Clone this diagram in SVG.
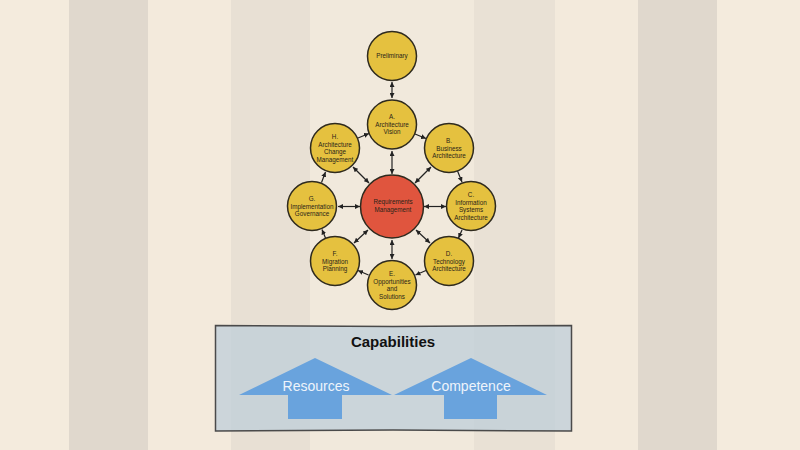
<svg xmlns="http://www.w3.org/2000/svg" width="800" height="450" viewBox="0 0 800 450">
<defs>
<style>
.node{fill:#e5c13f;stroke:#2e2a1e;stroke-width:1.5}
.core{fill:#e0553e;stroke:#2e2a1e;stroke-width:1.5}
.lbl{font-family:"Liberation Sans",Arial,sans-serif;font-size:6.3px;fill:#2a2418;text-anchor:middle}
.con{stroke:#222;stroke-width:1.2;fill:none}
.big{fill:#69a3dd}
.bt{font-family:"Liberation Sans",Arial,sans-serif;font-size:14px;fill:#eef4fb;text-anchor:middle}
</style>
<marker id="ah" markerUnits="userSpaceOnUse" markerWidth="5" markerHeight="5" refX="5" refY="2.5" orient="auto"><path d="M0,0 L5,2.5 L0,5 z" fill="#222"/></marker>
<marker id="at" markerUnits="userSpaceOnUse" markerWidth="5" markerHeight="5" refX="0" refY="2.5" orient="auto"><path d="M5,0 L0,2.5 L5,5 z" fill="#222"/></marker>
</defs>
<g id="background">
<rect x="0" y="0" width="800" height="450" fill="#f4ebdd"/>
<rect x="69" y="0" width="79" height="450" fill="#e0d8cd"/>
<rect x="148" y="0" width="83" height="450" fill="#f3eadc"/>
<rect x="231" y="0" width="79" height="450" fill="#e8e0d4"/>
<rect x="310" y="0" width="164" height="450" fill="#f1e9dc"/>
<rect x="474" y="0" width="81" height="450" fill="#e9e1d5"/>
<rect x="555" y="0" width="83" height="450" fill="#f3eadc"/>
<rect x="638" y="0" width="79" height="450" fill="#e0d8cd"/>
</g>
<g id="connectors">
<line class="con" x1="392" y1="82" x2="392" y2="98" marker-start="url(#at)" marker-end="url(#ah)"/>
<line class="con" x1="392" y1="151" x2="392" y2="174" marker-start="url(#at)" marker-end="url(#ah)"/>
<line class="con" x1="360" y1="206.5" x2="338" y2="206.5" marker-start="url(#at)" marker-end="url(#ah)"/>
<line class="con" x1="424" y1="206.5" x2="446" y2="206.5" marker-start="url(#at)" marker-end="url(#ah)"/>
<line class="con" x1="392" y1="240" x2="392" y2="259" marker-start="url(#at)" marker-end="url(#ah)"/>
<line class="con" x1="369" y1="183" x2="353" y2="167" marker-start="url(#at)" marker-end="url(#ah)"/>
<line class="con" x1="415" y1="183" x2="431" y2="167" marker-start="url(#at)" marker-end="url(#ah)"/>
<line class="con" x1="368" y1="230" x2="354" y2="243" marker-start="url(#at)" marker-end="url(#ah)"/>
<line class="con" x1="416" y1="230" x2="430" y2="243" marker-start="url(#at)" marker-end="url(#ah)"/>
<line class="con" x1="415" y1="134" x2="426" y2="138.5" marker-end="url(#ah)"/>
<line class="con" x1="457.5" y1="171" x2="462" y2="182" marker-end="url(#ah)"/>
<line class="con" x1="462" y1="230" x2="458.5" y2="238" marker-end="url(#ah)"/>
<line class="con" x1="426" y1="270.5" x2="415.5" y2="275" marker-end="url(#ah)"/>
<line class="con" x1="368.5" y1="275" x2="358" y2="270.5" marker-end="url(#ah)"/>
<line class="con" x1="325.5" y1="238" x2="322" y2="229.5" marker-end="url(#ah)"/>
<line class="con" x1="321.5" y1="182.5" x2="325.5" y2="172" marker-end="url(#ah)"/>
<line class="con" x1="358" y1="138" x2="369" y2="133.5" marker-end="url(#ah)"/>
</g>
<g id="preliminary"><circle class="node" cx="392" cy="56" r="24.5"/><text class="lbl" x="392" y="58">Preliminary</text></g>
<g id="phase-a"><circle class="node" cx="392" cy="124.5" r="24.5"/><text class="lbl" x="392" y="119">A.</text><text class="lbl" x="392" y="126.5">Architecture</text><text class="lbl" x="392" y="134">Vision</text></g>
<g id="phase-b"><circle class="node" cx="449" cy="148" r="24.5"/><text class="lbl" x="449" y="143">B.</text><text class="lbl" x="449" y="150.5">Business</text><text class="lbl" x="449" y="158">Architecture</text></g>
<g id="phase-c"><circle class="node" cx="471" cy="206" r="24.5"/><text class="lbl" x="471" y="197">C.</text><text class="lbl" x="471" y="204.5">Information</text><text class="lbl" x="471" y="212">Systems</text><text class="lbl" x="471" y="219.5">Architecture</text></g>
<g id="phase-d"><circle class="node" cx="449" cy="261" r="24.5"/><text class="lbl" x="449" y="256">D.</text><text class="lbl" x="449" y="263.5">Technology</text><text class="lbl" x="449" y="271">Architecture</text></g>
<g id="phase-e"><circle class="node" cx="392" cy="285" r="24.5"/><text class="lbl" x="392" y="276">E.</text><text class="lbl" x="392" y="283.5">Opportunities</text><text class="lbl" x="392" y="291">and</text><text class="lbl" x="392" y="298.5">Solutions</text></g>
<g id="phase-f"><circle class="node" cx="335" cy="261" r="24.5"/><text class="lbl" x="335" y="256">F.</text><text class="lbl" x="335" y="263.5">Migration</text><text class="lbl" x="335" y="271">Planning</text></g>
<g id="phase-g"><circle class="node" cx="312" cy="206" r="24.5"/><text class="lbl" x="312" y="201">G.</text><text class="lbl" x="312" y="208.5">Implementation</text><text class="lbl" x="312" y="216">Governance</text></g>
<g id="phase-h"><circle class="node" cx="335" cy="148" r="24.5"/><text class="lbl" x="335" y="139">H.</text><text class="lbl" x="335" y="146.5">Architecture</text><text class="lbl" x="335" y="154">Change</text><text class="lbl" x="335" y="161.5">Management</text></g>
<g id="requirements"><circle class="core" cx="392" cy="206.5" r="31.5"/><text class="lbl" x="393" y="204">Requirements</text><text class="lbl" x="393" y="211.5">Management</text></g>
<g id="capabilities">
<path d="M215.5,325.5 L393,326.5 L571.5,325.5 L571.5,431 L393,430 L215.5,431 Z" fill="#bccdda" fill-opacity="0.72" stroke="#4a4a4a" stroke-width="1.5"/>
<text x="393" y="347" font-family="'Liberation Sans',Arial,sans-serif" font-size="15" font-weight="bold" fill="#111" text-anchor="middle">Capabilities</text>
</g>
<g id="resources"><path class="big" d="M315,358 L392,395 L342,395 L342,419 L288,419 L288,395 L239,395 Z"/><text class="bt" x="316" y="391">Resources</text></g>
<g id="competence"><path class="big" d="M471,358 L547,395 L497,395 L497,419 L444,419 L444,395 L394,395 Z"/><text class="bt" x="471" y="391">Competence</text></g>
</svg>
